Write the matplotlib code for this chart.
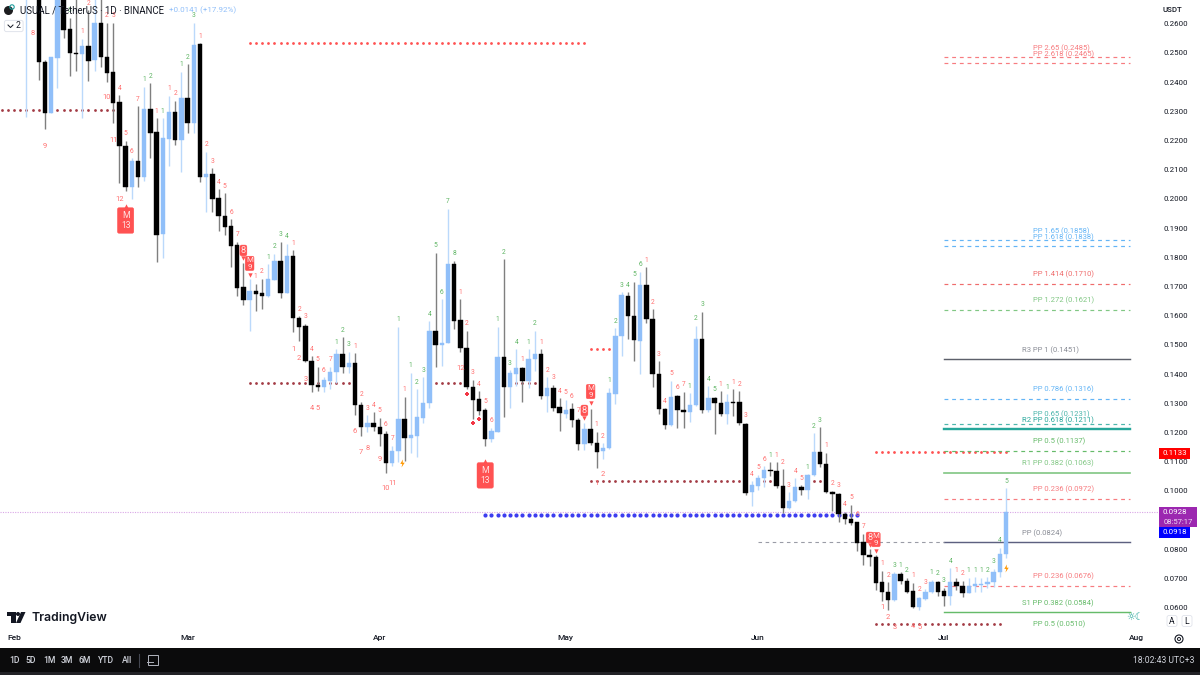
import matplotlib
matplotlib.use("Agg")
import matplotlib.pyplot as plt
from matplotlib.patches import Circle, FancyBboxPatch, Polygon, Rectangle

plt.rcParams["font.family"] = ["Roboto", "DejaVu Sans"]

# Daily candles: day number counted from 1 Feb, prices in USDT
days = list(range(4, 161))
days = [2] + days
highs = [.2801,.2750,.2476,.2486,.2750,.2750,.2620,.2699,.2548,.2647,.2699,.2699,.2603,.2603,.2356,.2199,.2140,.2318,.2384,.2397,
         .2277,.2277,.2353,.2336,.2435,.2462,.2603,.2534,.2161,.2106,.2034,.2020,.1931,.1853,.1781,.1726,.1709,.1726,.1777,.1812,
         .1853,.1846,.1825,.1599,.1572,.1462,.1425,.1390,.1425,.1486,.1527,.1476,.1472,.1305,.1260,.1270,.1250,.1205,.1154,.1562,
         .1322,.1404,.1349,.1390,.1582,.1815,.1657,.1966,.1788,.1657,.1548,.1380,.1342,.1284,.1216,.1562,.1794,.1414,.1486,.1425,
         .1486,.1548,.1486,.1390,.1363,.1318,.1312,.1301,.1250,.1233,.1281,.1202,.1164,.1353,.1558,.1681,.1681,.1716,.1750,.1767,
         .1623,.1445,.1284,.1377,.1329,.1339,.1335,.1565,.1613,.1359,.1322,.1342,.1332,.1349,.1342,.1233,.1034,.1055,.1085,.1099,
         .1099,.1075,.0996,.1044,.1020,.1058,.1198,.1219,.1130,.1000,.0993,.0928,.0952,.0894,.0853,.0801,.0781,.0726,.0688,.0722,
         .0722,.0702,.0685,.0637,.0664,.0695,.0692,.0668,.0736,.0702,.0692,.0702,.0705,.0702,.0705,.0733,.0805,.1010]
opens = [.2716,.2716,.2469,.2294,.2483,.2716,.2582,.2500,.2497,.2524,.2476,.2603,.2486,.2435,.2332,.2181,.2041,.2130,.2075,.2308,
         .2229,.1880,.2205,.2298,.2202,.2346,.2260,.2531,.2075,.2086,.2003,.1942,.1907,.1842,.1699,.1654,.1685,.1678,.1668,.1722,
         .1788,.1678,.1805,.1592,.1565,.1445,.1363,.1356,.1377,.1407,.1469,.1425,.1438,.1294,.1219,.1233,.1219,.1195,.1096,.1137,
         .1246,.1181,.1188,.1250,.1301,.1548,.1500,.1507,.1777,.1586,.1490,.1356,.1315,.1277,.1178,.1202,.1459,.1356,.1401,.1421,
         .1377,.1452,.1469,.1325,.1353,.1288,.1264,.1281,.1243,.1161,.1212,.1164,.1137,.1147,.1332,.1531,.1668,.1599,.1514,.1705,
         .1589,.1401,.1281,.1226,.1325,.1277,.1270,.1294,.1520,.1277,.1318,.1301,.1264,.1305,.1305,.1229,.0996,.1017,.1044,.1072,
         .1068,.1017,.0942,.0966,.1014,.1003,.1055,.1133,.1092,.0996,.0989,.0921,.0904,.0892,.0825,.0781,.0774,.0688,.0654,.0627,
         .0716,.0692,.0657,.0602,.0630,.0654,.0688,.0657,.0640,.0688,.0674,.0650,.0674,.0678,.0681,.0688,.0722,.0784]
closes = [.2784,.2469,.2294,.2486,.2716,.2579,.2500,.2495,.2524,.2473,.2603,.2486,.2431,.2329,.2181,.2041,.2130,.2075,.2308,.2226,
          .1877,.2209,.2298,.2202,.2346,.2260,.2527,.2075,.2086,.2000,.1942,.1904,.1839,.1695,.1654,.1685,.1675,.1668,.1726,.1788,
          .1678,.1805,.1592,.1562,.1445,.1363,.1356,.1380,.1407,.1469,.1425,.1438,.1294,.1219,.1233,.1219,.1195,.1096,.1137,.1246,
          .1181,.1192,.1253,.1301,.1548,.1500,.1507,.1777,.1582,.1490,.1356,.1312,.1274,.1178,.1205,.1459,.1356,.1404,.1421,.1377,
          .1452,.1469,.1325,.1353,.1284,.1267,.1277,.1243,.1161,.1212,.1164,.1133,.1147,.1336,.1531,.1671,.1599,.1517,.1705,.1589,
          .1401,.1281,.1226,.1322,.1277,.1270,.1294,.1520,.1277,.1318,.1301,.1264,.1305,.1301,.1233,.0993,.1020,.1044,.1072,.1068,
          .1017,.0942,.0966,.1014,.1003,.1055,.1133,.1092,.0996,.0989,.0921,.0904,.0890,.0822,.0781,.0774,.0685,.0654,.0627,.0716,
          .0692,.0654,.0602,.0633,.0654,.0688,.0654,.0640,.0688,.0674,.0650,.0674,.0681,.0681,.0688,.0722,.0784,.0928]
lows = [.2281,.2408,.2240,.2294,.2380,.2551,.2421,.2438,.2277,.2404,.2438,.2452,.2401,.2260,.2055,.2027,.2000,.2041,.2062,.2140,
        .1784,.1798,.2113,.2185,.2092,.2226,.2226,.2058,.1955,.1955,.1890,.1877,.1767,.1668,.1637,.1548,.1616,.1623,.1664,.1722,
        .1661,.1678,.1544,.1514,.1442,.1339,.1342,.1339,.1349,.1370,.1404,.1404,.1260,.1188,.1202,.1205,.1154,.1062,.1085,.1099,
        .1103,.1130,.1116,.1233,.1284,.1425,.1428,.1507,.1555,.1476,.1349,.1246,.1260,.1154,.1168,.1202,.1253,.1284,.1359,.1305,
        .1353,.1411,.1315,.1270,.1274,.1205,.1250,.1219,.1140,.1140,.1157,.1079,.1109,.1144,.1298,.1462,.1520,.1445,.1401,.1575,
        .1356,.1264,.1212,.1223,.1216,.1216,.1236,.1291,.1267,.1270,.1195,.1257,.1229,.1257,.1226,.0986,.0948,.1003,.1014,.1051,
        .1010,.0924,.0938,.0962,.0986,.0972,.1051,.1082,.0993,.0931,.0894,.0887,.0883,.0794,.0746,.0743,.0661,.0623,.0592,.0623,
        .0681,.0650,.0599,.0592,.0627,.0650,.0640,.0606,.0609,.0661,.0637,.0650,.0654,.0654,.0668,.0671,.0705,.0770]

# Sequential counts printed above each candle's high: (day, count)
bull_counts = [(9,3),(21,1),(22,2),(24,1),(27,1),(28,2),(29,3),(41,1),(42,2),(43,3),(44,4),(52,1),(53,2),(54,3),(62,1),
               (64,1),(65,2),(66,3),(67,4),(68,5),(69,6),(70,7),(71,8),(78,1),(79,2),(80,3),(81,4),(83,1),(84,2),(96,1),
               (97,2),(98,3),(99,4),(100,5),(101,6),(109,1),(110,2),(111,3),(112,4),(113,5),(115,1),(122,1),(128,1),(129,2),
               (130,3),(142,3),(143,1),(144,2),(148,1),(149,2),(150,3),(151,4),(154,1),(155,1),(156,1),(157,2),(158,3),
               (159,4),(160,5)]
bear_counts = [(11,1),(12,2),(15,2),(16,3),(17,4),(18,5),(19,6),(20,7),(23,1),(25,1),(26,2),(30,1),(31,2),(32,3),(33,4),
               (34,5),(35,6),(36,7),(39,1),(40,2),(45,1),(46,2),(47,3),(48,4),(49,5),(50,6),(51,7),(55,1),(56,2),(57,3),
               (58,4),(59,5),(60,6),(61,7),(63,1),(72,1),(73,2),(74,3),(75,4),(76,5),(77,6),(82,1),(85,1),(86,2),(87,3),
               (88,4),(89,5),(90,6),(91,7),(94,1),(95,2),(102,1),(103,2),(104,3),(105,4),(106,5),(107,6),(108,7),(114,1),
               (116,1),(117,2),(118,3),(119,4),(120,5),(121,6),(123,1),(124,2),(125,3),(126,4),(127,5),(131,1),(132,2),
               (133,3),(134,4),(135,5),(136,6),(137,7),(140,1),(141,2),(145,1),(146,2),(147,3),(152,1),(153,2)]
# Longer counts that sit away from the candle: (day, price, text)
low_counts = [(3,.2568,"8"),(5,.2181,"9"),(15,.2346,"10"),(16,.2199,"11"),(17,.1997,"12"),(45,.1486,"1"),(46,.1455,"2"),
              (47,.1383,"3"),(48,.1281,"4"),(49,.1284,"5"),(55,.1202,"6"),(56,.1130,"7"),(57,.1147,"8"),(59,.1109,"9"),
              (60,.1007,"10"),(61,.1027,"11"),(72,.1418,"12"),(94,.1024,"1"),(95,.1055,"2"),(140,.0602,"1"),(141,.0568,"2"),
              (142,.0534,"3"),(145,.0537,"4"),(146,.0534,"5")]
# Red flags: (day, price of the tip, first line, second line or None, direction of the tip)
flags = [(18,.1976,"M","13","up"),(76,.1103,"M","13","up"),(38,.1740,"M","9","down"),(37,.1798,"8",None,"down"),
         (93,.1301,"M","9","down"),(92,.1250,"8",None,"down"),(139,.0794,"M","9","down"),(138,.0815,"8",None,"down")]
cross_days = [73,74,75]
cross_prices = [.1332,.1233,.1246]
bolt_days = [62.6,160]
bolt_prices = [.1096,.0736]

# Dotted levels: (first day, last day, price, colour, dot size)
dot_runs = [(38,92,.2534,"#ff5252",4),(-2,16,.2305,"#a33b45",4),(38,54,.1370,"#a33b45",4),(68,72,.1370,"#a33b45",4),
            (81,84,.1370,"#a33b45",4),(93,96,.1486,"#ff5252",4),(93,117,.1034,"#a33b45",4),(120,122,.1034,"#a33b45",4),
            (129,130,.1034,"#a33b45",4),(76,136,.0918,"#3d3df0",9),(139,160,.1133,"#ff5252",4),(139,159,.0544,"#a33b45",4)]

# Pivot levels: (price, text, colour, line style, width, text start day)
pivots = [(.2485,"PP 2.65 (0.2485)","#f77c80","dash",1.0,164.35),(.2465,"PP 2.618 (0.2465)","#f77c80","dash",1.0,164.35),
          (.1858,"PP 1.65 (0.1858)","#64b5f6","dash",1.0,164.35),(.1838,"PP 1.618 (0.1838)","#64b5f6","dash",1.0,164.35),
          (.1710,"PP 1.414 (0.1710)","#ef6c6c","dash",1.0,164.35),(.1621,"PP 1.272 (0.1621)","#81c784","dash",1.0,164.35),
          (.1451,"R3 PP 1 (0.1451)","#5d606b","solid",1.2,162.6),(.1316,"PP 0.786 (0.1316)","#64b5f6","dash",1.0,164.35),
          (.1231,"PP 0.65 (0.1231)","#4db6ac","dash",1.0,164.35),(.1211,"R2 PP 0.618 (0.1211)","#26a69a","solid",2.0,162.6),
          (.1137,"PP 0.5 (0.1137)","#66bb6a","dash",1.0,164.35),(.1063,"R1 PP 0.382 (0.1063)","#81c784","solid",1.4,162.6),
          (.0972,"PP 0.236 (0.0972)","#f77c80","dash",1.0,164.35),(.0824,"PP (0.0824)","#5d6080","solid",1.2,162.6),
          (.0676,"PP 0.236 (0.0676)","#f77c80","dash",1.0,164.35),(.0584,"S1 PP 0.382 (0.0584)","#66bb6a","solid",1.2,162.6),
          (.0510,"PP 0.5 (0.0510)","#66bb6a","dash",1.0,164.35)]
pivot_first_day = 150
pivot_last_day = 180

month_days = [0,28,59,89,120,150,181]
month_names = ["Feb","Mar","Apr","May","Jun","Jul","Aug"]
price_ticks = [round(.06 + .01*i, 2) for i in range(21)]
last_price = 0.0928
range_buttons = ["1D","5D","1M","3M","6M","YTD","All"]
button_x = [14,31,49,67,85,106,127]

PX = 0.72  # points per pixel at 100 dpi
BLUE_BODY, BLUE_WICK = "#90bff9", "#bbd9fb"
BLACK_BODY, BLACK_WICK = "#000000", "#7f7f7f"
RED_TXT, GREEN_TXT = "#ff7070", "#5fb564"
GREY_TXT = "#8a8d96"
BOLT = [(0.1,1),(-0.55,-0.1),(-0.05,-0.1),(-0.25,-1),(0.55,0.2),(0.05,0.2)]

fig = plt.figure(figsize=(12, 6.75), dpi=100, facecolor="white")
ax = fig.add_axes([0, 45/675, 1158/1200, 630/675])
ax.set_xlim(-14/6.2, (1158-14)/6.2)
ax.set_ylim(0.052375, 0.26815)
for s in ax.spines.values():
    s.set_visible(False)
ax.yaxis.tick_right()
ax.set_yticks(price_ticks, [f"{t:.4f}" for t in price_ticks], fontsize=5.7, color="#131722")
ax.tick_params(axis="y", length=0, pad=4)
ax.set_xticks(month_days, month_names, fontsize=6.0, color="#131722", fontweight="medium")
ax.tick_params(axis="x", length=0, pad=3.6)

ax.axhline(last_price, color="#d9a6e6", lw=0.8, ls=(0, (1, 1.2)), zorder=1)

for first, last, price, colour, size in dot_runs:
    run = list(range(first, last + 1))
    ax.scatter(run, [price]*len(run), s=size, color=colour, linewidths=0, zorder=2)

for price, label, colour, style, width, text_day in pivots:
    ls = (0, (3.2, 3.2)) if style == "dash" else "-"
    ax.plot([pivot_first_day, pivot_last_day], [price, price], color=colour, lw=width*PX*1.2, ls=ls, zorder=2)
    ax.annotate(label, (text_day, price), xytext=(0, 9.5*PX), textcoords="offset points", ha="left", va="center",
                fontsize=5.5, color=GREY_TXT if colour in ("#5d606b", "#5d6080") else colour,
                zorder=6, annotation_clip=False)
# The central pivot also runs back as a grey dashed line
ax.plot([120, pivot_first_day], [.0824, .0824], color="#9a9ca6", lw=0.8, ls=(0, (3.2, 3.2)), zorder=2)

for d, h, o, c, l in zip(days, highs, opens, closes, lows):
    up = c >= o
    ax.vlines(d, l, h, color=BLUE_WICK if up else BLACK_WICK, lw=1.0, zorder=3)
    ax.bar(d, abs(c - o), bottom=min(o, c), width=0.74, color=BLUE_BODY if up else BLACK_BODY,
           edgecolor=BLUE_BODY if up else BLACK_BODY, linewidth=0.3, zorder=4)

day_high = dict(zip(days, highs))
for counts, colour in ((bull_counts, GREEN_TXT), (bear_counts, RED_TXT)):
    for d, n in counts:
        ax.annotate(str(n), (d, day_high[d]), xytext=(0, 7*PX), textcoords="offset points", ha="center", va="center",
                    fontsize=4.8, color=colour, zorder=5)
for d, price, label in low_counts:
    ax.text(d, price, label, ha="center", va="center", fontsize=5.4, color=RED_TXT, zorder=5)

for d, tip, first, second, way in flags:
    lines = first if second is None else first + "\n" + second
    if second == "13":
        height, size, pad = 26, 6.2, 0.4
    elif second:
        height, size, pad = 20, 5.8, 0.12
    else:
        height, size, pad = 12, 6.6, 0.1
    lift = (1.5 + height/2) * PX * (-1 if way == "up" else 1)
    ax.annotate(lines, (d, tip), xytext=(0, lift), textcoords="offset points", ha="center", va="center",
                fontsize=size, color="#ffe3e3", linespacing=1.1, zorder=8,
                bbox=dict(boxstyle=f"round,pad={pad},rounding_size=0.2", fc="#ff5252", ec="#ff5252", lw=0.3))
    ax.scatter([d], [tip], marker="^" if way == "up" else "v", s=10, color="#ff5252", linewidths=0, zorder=7)

ax.scatter(cross_days, cross_prices, marker="P", s=9, color="#f23645", linewidths=0, zorder=5)
ax.scatter(bolt_days, bolt_prices, marker=BOLT, s=34, color="#ff9800", linewidths=0, zorder=6)

# Window furniture, laid out in screen pixels
ui = fig.add_axes([0, 0, 1, 1], zorder=10)
ui.set_xlim(0, 1200)
ui.set_ylim(675, 0)
ui.axis("off")
ui.patch.set_alpha(0)

ui.add_patch(Rectangle((0, 648), 1200, 24, fc="#0b0b0c", ec="none"))
ui.add_patch(Rectangle((0, 672), 1200, 3, fc="#222226", ec="none"))
for label, x in zip(range_buttons, button_x):
    ui.text(x, 660.5, label, ha="center", va="center", fontsize=6.2, color="#d1d4dc", fontweight="medium")
ui.plot([138.5, 138.5], [654, 667], color="#434651", lw=0.8)
ui.add_patch(Rectangle((148, 655), 10, 9.5, fc="none", ec="#b2b5be", lw=0.7))
ui.plot([147, 153], [662, 662], color="#b2b5be", lw=0.7)
ui.text(1194, 660.5, "18:02:43 UTC+3", ha="right", va="center", fontsize=6.2, color="#d1d4dc")

ui.text(1172, 10, "USDT", ha="center", va="center", fontsize=5.6, color="#131722", fontweight="medium")

# Price tags on the scale
ui.add_patch(Rectangle((1159, 448), 31, 10.5, fc="#ff0000", ec="none"))
ui.text(1174.5, 453.3, "0.1133", ha="center", va="center", fontsize=5.7, color="white")
ui.add_patch(Rectangle((1159, 507), 38, 20, fc="#9c27b0", ec="none"))
ui.text(1174.5, 512.5, "0.0928", ha="center", va="center", fontsize=5.7, color="white")
ui.text(1178, 521.8, "08:57:17", ha="center", va="center", fontsize=5.5, color="#f0d8f5")
ui.add_patch(Rectangle((1159, 527), 31, 10.5, fc="#0000ff", ec="none"))
ui.text(1174.5, 532.3, "0.0918", ha="center", va="center", fontsize=5.7, color="white")

# Chart title row
ui.add_patch(Circle((8.5, 10.5), 4.5, fc="#1d1d1f", ec="none"))
ui.add_patch(Circle((12, 7), 2.2, fc="none", ec="#1f9e9e", lw=0.8))
ui.text(20, 10.5, "USUAL / TetherUS \u00b7 1D \u00b7 BINANCE", ha="left", va="center", fontsize=6.9, color="#131722")
ui.text(169, 10.5, "+0.0141 (+17.92%)", ha="left", va="center", fontsize=5.8, color="#90bff9")
ui.add_patch(FancyBboxPatch((5, 21), 17.5, 10, boxstyle="round,pad=0.6,rounding_size=2", fc="white", ec="#e0e3eb", lw=0.7))
ui.plot([8, 10.5, 13], [25, 27.5, 25], color="#131722", lw=0.7)
ui.text(18, 26, "2", ha="center", va="center", fontsize=6.2, color="#131722")

# TradingView mark and wordmark
ui.add_patch(Rectangle((7, 612), 8.5, 4, fc="#131722", ec="none"))
ui.add_patch(Rectangle((11, 612), 4.5, 11, fc="#131722", ec="none"))
ui.add_patch(Circle((18, 614), 2, fc="#131722", ec="none"))
ui.add_patch(Polygon([(21, 612), (25.5, 612), (20.5, 623), (16, 623)], fc="#131722", ec="none"))
ui.text(31, 618, "TradingView", ha="left", va="center", fontsize=8.8, family="Inter", fontweight="semibold", color="#131722")

# Corner controls of the scale
ui.text(1135, 617, "\u263c\u263e", family="DejaVu Sans", ha="center", va="center", fontsize=7, color="#26a69a")
for x, letter in ((1172, "A"), (1187, "L")):
    ui.add_patch(FancyBboxPatch((x-4.5, 616), 9, 10, boxstyle="round,pad=0.5,rounding_size=2", fc="white", ec="#e0e3eb", lw=0.6))
    ui.text(x, 621, letter, ha="center", va="center", fontsize=6.2, color="#131722")
ui.add_patch(Circle((1179, 639), 4, fc="none", ec="#131722", lw=0.8))
ui.add_patch(Circle((1179, 639), 1.5, fc="none", ec="#131722", lw=0.7))

fig.savefig("out.png", dpi=100)
